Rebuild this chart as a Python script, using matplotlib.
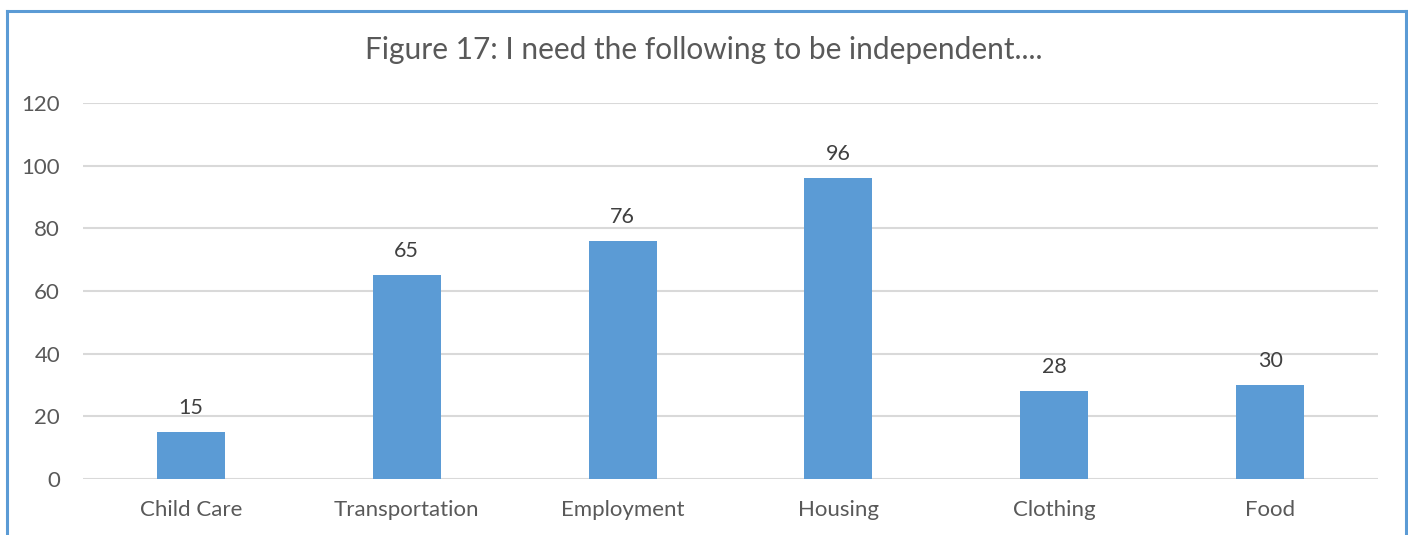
import matplotlib
matplotlib.use("Agg")
import matplotlib.pyplot as plt
from matplotlib.lines import Line2D

categories = ["Child Care", "Transportation", "Employment", "Housing", "Clothing", "Food"]
counts = [15, 65, 76, 96, 28, 30]
y_ticks = [0, 20, 40, 60, 80, 100, 120]

plt.rcParams['font.family'] = ['Lato', 'DejaVu Sans']

W, H = 1408, 535
fig = plt.figure(figsize=(W / 100, H / 100), dpi=100)

# plot area placed in pixel terms
left, right, bottom, top = 83, 1378, 479, 103
ax = fig.add_axes([left / W, 1 - bottom / H, (right - left) / W, (bottom - top) / H])

x = range(len(categories))
bars = ax.bar(x, counts, width=0.315, color="#5B9BD5", zorder=3)

for rect, v in zip(bars, counts):
    ax.annotate(str(v), (rect.get_x() + rect.get_width() / 2, v),
                xytext=(0, 10), textcoords="offset points",
                ha="center", va="bottom", fontsize=15.5, color="#404040")

ax.set_xlim(-0.5, len(categories) - 0.5)
ax.set_ylim(0, 120)
ax.set_yticks(y_ticks)
ax.set_xticks(list(x))
ax.set_xticklabels(categories)
ax.tick_params(axis="both", length=0, labelsize=16, colors="#595959")
ax.tick_params(axis="x", pad=15)
ax.tick_params(axis="y", pad=16.5)
ax.grid(axis="y", color="#D9D9D9", linewidth=1.5, zorder=0)
for s in ax.spines.values():
    s.set_visible(False)

fig.text(0.5, 1 - 50 / H, "Figure 17: I need the following to be independent....",
         ha="center", va="center", fontsize=21.5, color="#595959")

# chart frame (bottom edge falls outside the image)
bx0, bx1, by = 7.5 / W, 1406 / W, 1 - 11 / H
frame = dict(color="#5B9BD5", linewidth=2.2, transform=fig.transFigure)
fig.lines.append(Line2D([bx0, bx1], [by, by], **frame))
fig.lines.append(Line2D([bx0, bx0], [by, -0.1], **frame))
fig.lines.append(Line2D([bx1, bx1], [by, -0.1], **frame))

fig.savefig("out.png", dpi=100)
